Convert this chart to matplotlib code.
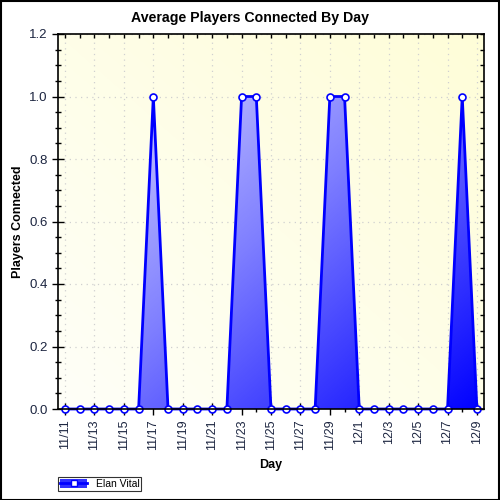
import numpy as np
import pandas as pd
import matplotlib
matplotlib.use("Agg")
import matplotlib.pyplot as plt
from matplotlib.colors import LinearSegmentedColormap
from matplotlib.lines import Line2D
from matplotlib.patches import Patch, Rectangle

plt.rcParams['font.family'] = ['Liberation Sans', 'DejaVu Sans']

# data
days = pd.date_range("2010-11-11", "2010-12-09", freq="D")
day_labels = [f"{d.month}/{d.day}" for d in days]
players = [0, 0, 0, 0, 0, 0, 1, 0, 0, 0, 0, 0, 1, 1, 0,
           0, 0, 0, 1, 1, 0, 0, 0, 0, 0, 0, 0, 1, 0]
series_name = "Elan Vital"

x = np.arange(len(days))
y = np.array(players, dtype=float)
label_color = "#1c2540"

fig = plt.figure(figsize=(5, 5), dpi=100)
ax = fig.add_axes([0.116, 0.182, 0.852, 0.75])
xlim = (-0.48, len(days) - 1 + 0.48)
ylim = (0, 1.2)
ax.set_xlim(*xlim)
ax.set_ylim(*ylim)

# background gradient (white-ish bottom-left to light yellow top-right)
gx, gy = np.meshgrid(np.linspace(0, 1, 200), np.linspace(0, 1, 200))
bg = (gx + gy) / 2
bg_cmap = LinearSegmentedColormap.from_list("bg", ["#fffff8", "#fefdd8"])
ax.imshow(bg, cmap=bg_cmap, origin="lower", extent=(*xlim, *ylim),
          aspect="auto", zorder=0, interpolation="bilinear")

# grid
ax.grid(True, color="#d0d0d0", linestyle=(0, (1, 3.5)), linewidth=0.9, zorder=1)

# gradient fill under line
poly = ax.fill_between(x, y, 0, facecolor="none", edgecolor="none")
fill_cmap = LinearSegmentedColormap.from_list("fill", ["#ececff", "#8080ff", "#0000ff"])
fg = (gx + (1 - gy)) / 2
im = ax.imshow(fg, cmap=fill_cmap, origin="lower", extent=(*xlim, *ylim),
               aspect="auto", zorder=2, interpolation="bilinear")
im.set_clip_path(poly.get_paths()[0], transform=ax.transData)

ax.plot(x, y, color="#0000ff", linewidth=2, marker="o", markersize=5,
        markerfacecolor="white", markeredgecolor="#0000ff",
        markeredgewidth=1.2, zorder=4, clip_on=False)

# ticks
ax.set_xticks(x[::2])
ax.set_xticklabels(day_labels[::2], rotation=90, fontsize=9, color=label_color)
ax.set_xticks(x, minor=True)
ax.set_yticks(np.arange(0, 1.21, 0.2))
ax.set_yticklabels([f"{v:.1f}" for v in np.arange(0, 1.21, 0.2)], fontsize=9.5,
                   color=label_color)
ax.set_yticks(np.arange(0, 1.21, 0.05), minor=True)
ax.tick_params(axis="both", which="major", direction="inout", length=9, width=1,
               color="black", pad=3)
ax.tick_params(axis="both", which="minor", direction="inout", length=4, width=1,
               color="black")
ax.tick_params(axis="both", which="both", top=True, right=True)
for t in ax.xaxis.get_major_ticks() + ax.xaxis.get_minor_ticks():
    t.tick2line.set_marker(matplotlib.markers.TICKDOWN)
    t.tick2line.set_markersize(3)
for t in ax.yaxis.get_major_ticks() + ax.yaxis.get_minor_ticks():
    t.tick2line.set_marker(matplotlib.markers.TICKLEFT)
    t.tick2line.set_markersize(3)
for s in ax.spines.values():
    s.set_linewidth(1.2)
    s.set_zorder(5)

fig.text(0.5, 0.964, "Average Players Connected By Day", fontsize=10.2,
         fontweight="bold", ha="center", va="center")
ax.set_xlabel("Day", fontsize=9, fontweight="bold")
ax.xaxis.set_label_coords(0.5, -0.133)
ax.set_ylabel("Players Connected", fontsize=9, fontweight="bold")
ax.yaxis.set_label_coords(-0.080, 0.5)

# legend
patch = Patch(facecolor="#3030ff", edgecolor="none")
line = Line2D([], [], color="#0000ff", linewidth=2, marker="s", markersize=5,
              markerfacecolor="white", markeredgecolor="#0000ff")
leg = fig.legend([(patch, line)], [series_name], loc="lower left",
                 bbox_to_anchor=(0.116, 0.018), fontsize=7.5, frameon=True,
                 fancybox=False, edgecolor="black", borderpad=0.2,
                 handlelength=2.6, handleheight=0.9, borderaxespad=0)
leg.get_frame().set_linewidth(0.8)

# figure border
fig.patches.append(Rectangle((0.001, 0.001), 0.997, 0.997, transform=fig.transFigure,
                             fill=False, edgecolor="black", linewidth=1.5))

plt.savefig("out.png", dpi=100)
